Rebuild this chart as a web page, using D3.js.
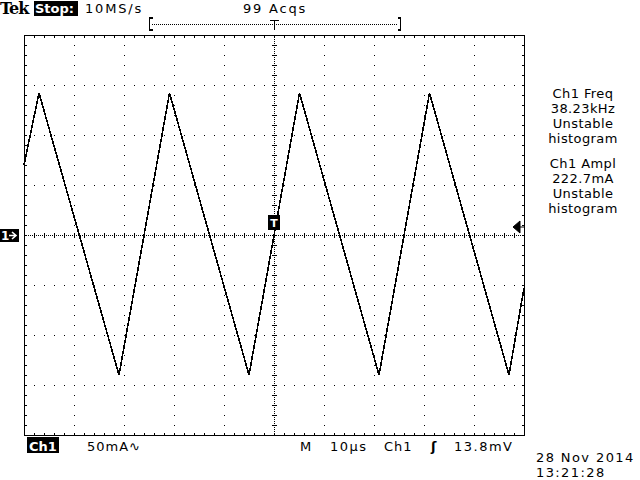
<!DOCTYPE html>
<html>
<head>
<meta charset="utf-8">
<title>Tek scope capture</title>
<style>
body { margin: 0; background: #fff; }
svg { display: block; }
text { font-family: 'DejaVu Sans', sans-serif; font-size: 13px; fill: #000; }
.inv { fill: #fff; font-weight: bold; }
</style>
</head>
<body>
<svg></svg>
<script src="https://d3js.org/d3.v7.min.js"></script>
<script>
// trace vertices: time in us (0 = trigger), current in mA
const timeUs    = [-50, -47.0, -31.0, -20.9, -5.0, 5.1, 21.0, 31.1, 47.0, 50];
const currentMa = [ 70,   142,  -140,   142, -140, 142, -140,  142, -140, -53];

const xTicks = [-50, -40, -30, -20, -10, 0, 10, 20, 30, 40, 50];     // 10us/div
const yTicks = [-200, -150, -100, -50, 0, 50, 100, 150, 200];       // 50mA/div
const triggerLevel = 8;   // mA, right hand arrow

const readout = ['Ch1 Freq', '38.23kHz', 'Unstable', 'histogram'];
const readout2 = ['Ch1 Ampl', '222.7mA', 'Unstable', 'histogram'];

const width = 640, height = 480;
const svg = d3.select('svg').attr('width', width).attr('height', height);

const x = d3.scaleLinear([-50, 50], [24, 524]);
const y = d3.scaleLinear([-200, 200], [435, 35]);

const data = timeUs.map((t, i) => ({ t: t, v: currentMa[i] }));

const grid = svg.append('g').attr('shape-rendering', 'crispEdges').attr('fill', '#000');

// dotted division lines, a dot every 1/5 div
const fineX = d3.range(-50, 50.01, 2);
const fineY = d3.range(-200, 200.01, 10);
xTicks.slice(1, -1).filter(d => d !== 0).forEach(gx => {
  grid.selectAll(null).data(fineY.slice(1, -1)).join('rect')
    .attr('x', x(gx)).attr('y', d => Math.round(y(d))).attr('width', 1).attr('height', 1);
});
yTicks.slice(1, -1).filter(d => d !== 0).forEach(gy => {
  grid.selectAll(null).data(fineX.slice(1, -1)).join('rect')
    .attr('x', d => Math.round(x(d))).attr('y', y(gy)).attr('width', 1).attr('height', 1);
});

// centre axes: dense dots with little ticks
const denseX = d3.range(-50, 50.01, 0.4);
const denseY = d3.range(-200, 200.01, 2);
grid.selectAll(null).data(denseX).join('rect')
  .attr('x', d => Math.round(x(d))).attr('y', y(0)).attr('width', 1).attr('height', 1);
grid.selectAll(null).data(fineX).join('rect')
  .attr('x', d => Math.round(x(d))).attr('y', y(0) - 2).attr('width', 1).attr('height', 5);
grid.selectAll(null).data(denseY).join('rect')
  .attr('x', x(0)).attr('y', d => Math.round(y(d))).attr('width', 1).attr('height', 1);
grid.selectAll(null).data(fineY).join('rect')
  .attr('x', x(0) - 2).attr('y', d => Math.round(y(d))).attr('width', 5).attr('height', 1);

// border with inner ticks
grid.append('rect')
  .attr('x', x(-50) + 0.5).attr('y', y(200) + 0.5)
  .attr('width', x(50) - x(-50)).attr('height', y(-200) - y(200))
  .attr('fill', 'none').attr('stroke', '#000').attr('stroke-width', 1.2);
grid.selectAll(null).data(fineX).join('rect')
  .attr('x', d => Math.round(x(d))).attr('y', y(200)).attr('width', 1).attr('height', 3);
grid.selectAll(null).data(fineX).join('rect')
  .attr('x', d => Math.round(x(d))).attr('y', y(-200) - 2).attr('width', 1).attr('height', 3);
grid.selectAll(null).data(fineY).join('rect')
  .attr('x', x(-50)).attr('y', d => Math.round(y(d))).attr('width', 3).attr('height', 1);
grid.selectAll(null).data(fineY).join('rect')
  .attr('x', x(50) - 2).attr('y', d => Math.round(y(d))).attr('width', 3).attr('height', 1);

// trace
const line = d3.line().x(d => x(d.t)).y(d => y(d.v));
svg.append('path')
  .attr('d', line(data))
  .attr('fill', 'none')
  .attr('stroke', '#000')
  .attr('stroke-width', 1.6)
  .attr('stroke-linejoin', 'miter')
  .attr('shape-rendering', 'crispEdges');

// trigger point marker at centre
svg.append('rect').attr('x', x(0) - 6).attr('y', y(0) - 20).attr('width', 12).attr('height', 15).attr('fill', '#000');
svg.append('text').attr('class', 'inv').attr('x', x(0)).attr('y', y(0) - 8)
  .attr('text-anchor', 'middle').style('font-size', '11px').text('T');

// ground marker at left
const gy0 = y(0);
svg.append('rect').attr('x', 0).attr('y', gy0 - 6).attr('width', 19).attr('height', 13).attr('fill', '#000');
svg.append('text').attr('class', 'inv').attr('x', 1).attr('y', gy0 + 5).style('font-size', '12px').text('1');
svg.append('path')
  .attr('d', `M9,${gy0 + 0.5} L15,${gy0 + 0.5} M12,${gy0 - 3} L16,${gy0 + 0.5} L12,${gy0 + 4}`)
  .attr('fill', 'none').attr('stroke', '#fff').attr('stroke-width', 1.6);

// trigger level arrow at right
const ty = Math.round(y(triggerLevel));
svg.append('path')
  .attr('d', `M${x(50) - 11},${ty} L${x(50) - 4},${ty - 6} L${x(50) - 4},${ty + 6} Z M${x(50) - 5},${ty} L${x(50)},${ty}`)
  .attr('fill', '#000').attr('stroke', '#000').attr('stroke-width', 1);

// header
svg.append('text').attr('x', 0).attr('y', 14)
  .style('font-family', "'DejaVu Serif', serif").style('font-weight', 'bold').style('font-size', '16px')
  .style('letter-spacing', '-1px').text('Tek');
svg.append('rect').attr('x', 34).attr('y', 1).attr('width', 44).attr('height', 15).attr('fill', '#000');
svg.append('text').attr('class', 'inv').attr('x', 35).attr('y', 13).style('font-size', '13px').text('Stop:');
svg.append('text').attr('x', 85).attr('y', 13).style('letter-spacing', '1.8px').text('10MS/s');
svg.append('text').attr('x', 275).attr('y', 13).attr('text-anchor', 'middle').style('letter-spacing', '1.8px').text('99 Acqs');

// record window bracket
const hdr = svg.append('g').attr('shape-rendering', 'crispEdges');
hdr.append('path').attr('d', 'M152.5,18 L149.5,18 L149.5,30 L152.5,30 M397.5,18 L400.5,18 L400.5,30 L397.5,30')
  .attr('fill', 'none').attr('stroke', '#000').attr('stroke-width', 1.5);
hdr.append('line').attr('x1', 152).attr('x2', 398).attr('y1', 24.5).attr('y2', 24.5)
  .attr('stroke', '#000').attr('stroke-dasharray', '1,1');
hdr.append('path').attr('d', `M${x(0) - 4},20.5 L${x(0) + 5},20.5 M${x(0) + 0.5},20 L${x(0) + 0.5},30`)
  .attr('stroke', '#000').attr('stroke-width', 1.5);

// measurement readouts
const rd = svg.append('g').attr('text-anchor', 'middle')
  .style('letter-spacing', '0.4px').style('font-size', '14px');
readout.forEach((s, i) => rd.append('text').attr('x', 583).attr('y', 98 + i * 15).text(s));
readout2.forEach((s, i) => rd.append('text').attr('x', 583).attr('y', 168 + i * 15).text(s));

// footer
svg.append('rect').attr('x', 27).attr('y', 437).attr('width', 32).attr('height', 16).attr('fill', '#000');
svg.append('text').attr('class', 'inv').attr('x', 29).attr('y', 451).text('Ch1');
svg.append('text').attr('x', 87).attr('y', 451).style('letter-spacing', '1px').text('50mA∿');
svg.append('text').attr('x', 300).attr('y', 451).text('M');
svg.append('text').attr('x', 330).attr('y', 451).style('letter-spacing', '1.5px').text('10µs');
svg.append('text').attr('x', 384).attr('y', 451).style('letter-spacing', '1px').text('Ch1');
svg.append('text').attr('x', 431).attr('y', 451).style('font-weight', 'bold').text('ʃ');
svg.append('text').attr('x', 454).attr('y', 451).style('letter-spacing', '1.5px').text('13.8mV');
svg.append('text').attr('x', 536).attr('y', 462).style('letter-spacing', '1.4px').text('28 Nov 2014');
svg.append('text').attr('x', 536).attr('y', 477).style('letter-spacing', '1.4px').text('13:21:28');
</script>
</body>
</html>
